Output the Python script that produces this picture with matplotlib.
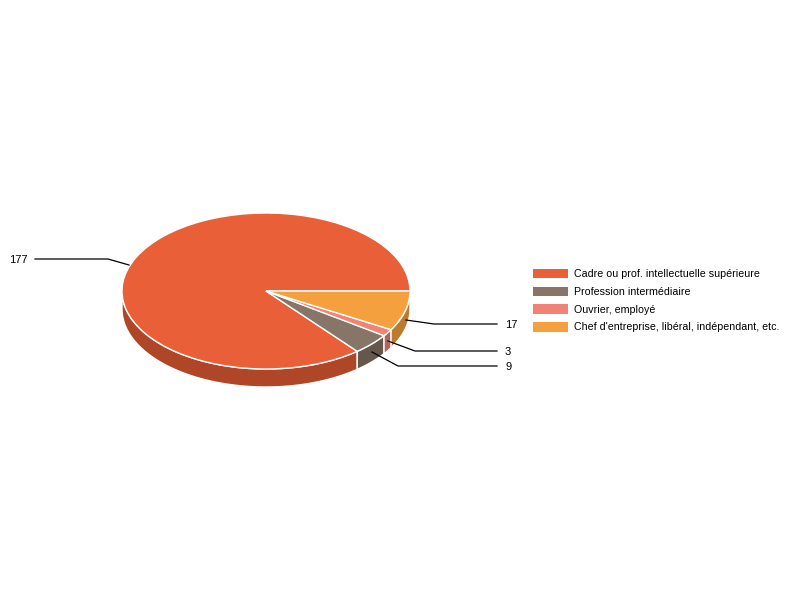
import numpy as np
import matplotlib
matplotlib.use("Agg")
import matplotlib.pyplot as plt
from matplotlib.patches import Patch

plt.rcParams['font.family'] = ['Liberation Sans', 'DejaVu Sans']

categories = ["Cadre ou prof. intellectuelle supérieure", "Profession intermédiaire",
              "Ouvrier, employé", "Chef d'entreprise, libéral, indépendant, etc."]
values = [177, 9, 3, 17]
colors = ["#E95F38", "#877567", "#F08375", "#F5A03F"]
side_colors = ["#B04628", "#65574B", "#B5625A", "#BC7A2E"]

W, H = 800, 600
CX, CY, RX, RY, DEPTH = 266, 291, 144, 78, 18
FS = 7.7
FS_VALUE = 8.0

fig = plt.figure(figsize=(W / 100, H / 100), dpi=100, facecolor="white")
ax = fig.add_axes([0, 0, 1, 1])
ax.pie(values, colors=colors, startangle=0, counterclock=True, radius=1,
       wedgeprops=dict(edgecolor="white", linewidth=1.0, zorder=3))
ax.set_aspect("auto")
ax.set_xlim(-CX / RX, (W - CX) / RX)
ax.set_ylim((CY - H) / RY, CY / RY)
ax.axis("off")

# extruded side of the pie
d = DEPTH / RY
edges = np.concatenate([[0], np.cumsum(values)]) / sum(values) * 360
for a0, a1, c in zip(edges[:-1], edges[1:], side_colors):
    lo, hi = max(a0, 180), min(a1, 360)
    if hi <= lo:
        continue
    t = np.radians(np.linspace(lo, hi, 120))
    x, y = np.cos(t), np.sin(t)
    ax.fill(np.r_[x, x[::-1]], np.r_[y, y[::-1] - d], facecolor=c,
            edgecolor="white", linewidth=1.0, zorder=1, joinstyle="round")

# leader lines and value labels (pixel layout)
px = lambda p: [(p[0] / W), 1 - p[1] / H]
leaders = [
    ("177", [(35, 259), (108, 259), (129, 265)], (28, 259), "right"),
    ("17", [(406, 320), (434, 324), (497, 324)], (505, 324), "left"),
    ("3", [(388, 341), (415, 351), (497, 351)], (505, 351), "left"),
    ("9", [(372, 352), (398, 366), (497, 366)], (505, 366), "left"),
]
for label, pts, tp, ha in leaders:
    xy = np.array([px(p) for p in pts])
    ax.plot(xy[:, 0], xy[:, 1], color="black", lw=0.9, transform=fig.transFigure,
            zorder=5, solid_joinstyle="miter")
    ax.text(*px(tp), label, transform=fig.transFigure, ha=ha, va="center_baseline",
            fontsize=FS_VALUE, color="black", zorder=6)

handles = [Patch(facecolor=c, edgecolor="none") for c in colors]
fig.legend(handles, categories, loc="upper left",
           bbox_to_anchor=(530 / W, 1 - 265.5 / H), bbox_transform=fig.transFigure,
           frameon=False, fontsize=FS, handlelength=3.27, handleheight=1.0,
           handletextpad=0.56, labelspacing=0.68, borderpad=0.31, borderaxespad=0,
           labelcolor="black")

fig.savefig("out.png", dpi=100, facecolor="white")
